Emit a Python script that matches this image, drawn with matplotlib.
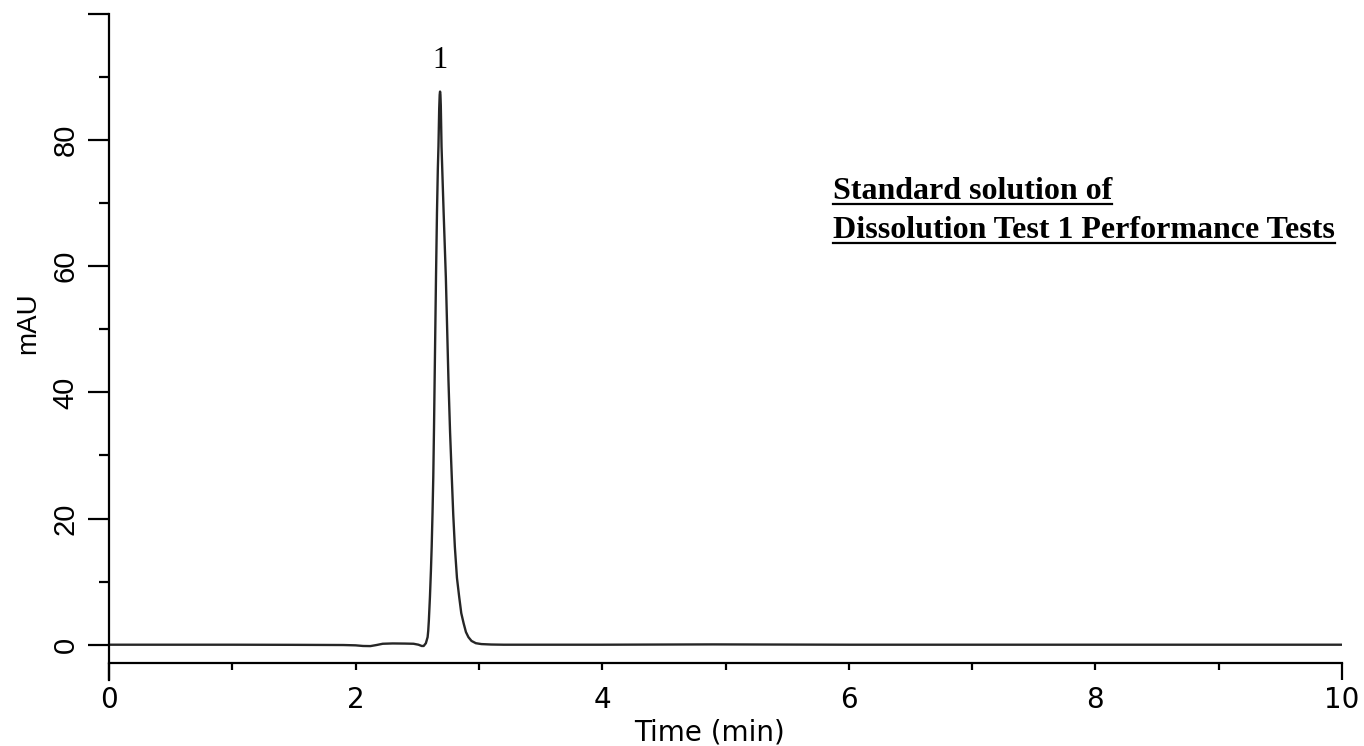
import matplotlib
matplotlib.use('Agg')
import matplotlib.pyplot as plt
from matplotlib.lines import Line2D
from matplotlib.ticker import FixedLocator, FuncFormatter

# Chromatogram (time in min, absorbance in mAU)
time_min = [0.0, 0.5, 1.0, 1.5, 1.9, 2.0, 2.06, 2.12, 2.17, 2.22, 2.3, 2.4, 2.47, 2.51,
            2.536, 2.552, 2.570, 2.584, 2.589, 2.594, 2.603, 2.611, 2.617, 2.624, 2.630,
            2.636, 2.641, 2.652, 2.660, 2.667, 2.672, 2.678, 2.682, 2.685, 2.688, 2.691,
            2.697, 2.705, 2.714, 2.732, 2.753, 2.766, 2.780, 2.792, 2.805, 2.822, 2.840,
            2.857, 2.876, 2.895, 2.915, 2.94, 2.975, 3.02, 3.1, 3.2, 4.0, 4.9, 6.0, 8.0, 10.0]
mau = [0.0, 0.0, 0.0, -0.02, -0.05, -0.1, -0.2, -0.22, -0.05, 0.15, 0.2, 0.18, 0.15, 0.0,
       -0.2, -0.2, 0.24, 1.2, 2.2, 3.8, 7.6, 11.8, 15.5, 21.0, 26.6,
       34.5, 42.0, 58.2, 68.5, 75.5, 79.0, 85.0, 87.2, 87.7, 87.2, 85.5,
       79.0, 74.0, 68.5, 58.2, 42.0, 33.8, 26.6, 20.6, 15.5, 10.6, 7.6,
       5.0, 3.4, 2.0, 1.2, 0.6, 0.24, 0.1, 0.03, 0.0, 0.0, 0.05, 0.0, 0.0, 0.0]

peak_time = 2.685
peak_height = 87.7
peak_label = '1'
title_lines = ['Standard solution of', 'Dissolution Test 1 Performance Tests']

W, H = 1364, 746
fig = plt.figure(figsize=(W / 100, H / 100), dpi=100)
ax = fig.add_axes([109 / W, 1 - 663 / H, (1342 - 109) / W, (663 - 14) / H])

ax.plot(time_min, mau, color='#262626', lw=1.7)

ax.set_xlim(0, 10)
ax.set_ylim(-2.9, 100)

for s in ['top', 'right']:
    ax.spines[s].set_visible(False)
ax.spines['left'].set_bounds(-5.6, 100)
ax.spines['left'].set_linewidth(1.6)
ax.spines['bottom'].set_linewidth(1.6)

xfont = 'DejaVu Sans'
yfont = 'Liberation Sans'

# x ticks: long ticks at the ends, short ones in between
ax.xaxis.set_major_locator(FixedLocator([0, 10]))
ax.xaxis.set_minor_locator(FixedLocator([1, 2, 3, 4, 5, 6, 7, 8, 9]))
ax.xaxis.set_minor_formatter(FuncFormatter(lambda v, p: '%d' % v if int(round(v)) % 2 == 0 else ''))
ax.tick_params(axis='x', which='major', length=12.2, width=1.6, pad=4.5, labelsize=20)
ax.tick_params(axis='x', which='minor', length=5, width=1.6, pad=11.7, labelsize=20)

# y ticks
ax.yaxis.set_major_locator(FixedLocator([0, 20, 40, 60, 80, 100]))
ax.yaxis.set_minor_locator(FixedLocator([10, 30, 50, 70, 90]))
ax.yaxis.set_major_formatter(FuncFormatter(lambda v, p: '' if v >= 100 else '%d' % v))
ax.tick_params(axis='y', which='major', length=15, width=1.6, pad=6, labelsize=21, labelrotation=90)
ax.tick_params(axis='y', which='minor', length=7, width=1.6)
for lab in ax.get_yticklabels():
    lab.set_verticalalignment('center')
    lab.set_fontfamily(yfont)
for lab in ax.get_xticklabels(which='both'):
    lab.set_fontfamily(xfont)

fig.text(709 / W, 1 - 740 / H, 'Time (min)', ha='center', va='baseline', fontsize=20, family=xfont)
fig.text(28 / W, 1 - 323 / H, 'mAU', ha='center', va='center', rotation=90, fontsize=20, family=yfont)

ax.annotate(peak_label, xy=(peak_time, peak_height), xytext=(0, 17), textcoords='offset points',
            ha='center', va='baseline', fontsize=22, family='Liberation Serif')

texts = []
for i, line in enumerate(title_lines):
    t = fig.text(833 / W, 1 - (199 + 39 * i) / H, line, ha='left', va='baseline',
                 fontsize=23, fontweight='bold', family='Liberation Serif')
    texts.append(t)

# underline the title lines
fig.canvas.draw()
r = fig.canvas.get_renderer()
for i, t in enumerate(texts):
    bb = t.get_window_extent(renderer=r)
    y = (H - (204 + 39 * i)) / H
    fig.add_artist(Line2D([bb.x0 / W, bb.x1 / W], [y, y], transform=fig.transFigure,
                          color='black', lw=1.6))

fig.savefig('out.png', dpi=100)
